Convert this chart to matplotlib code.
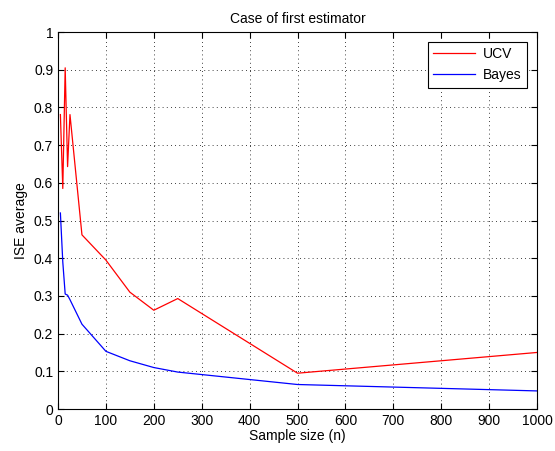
import matplotlib
matplotlib.use('Agg')
import matplotlib.pyplot as plt

# Sample sizes and ISE averages
n = [5, 10, 15, 20, 25, 50, 100, 150, 200, 250, 500, 1000]
ucv = [0.781, 0.585, 0.905, 0.643, 0.781, 0.462, 0.395, 0.31, 0.262, 0.293, 0.095, 0.15]
bayes = [0.52, 0.39, 0.305, 0.302, 0.29, 0.225, 0.153, 0.128, 0.11, 0.098, 0.065, 0.048]

plt.rcParams['font.family'] = ['Liberation Sans', 'DejaVu Sans']
plt.rcParams['font.size'] = 10

fig = plt.figure(figsize=(5.55, 4.51), dpi=100)
ax = fig.add_axes([0.1045, 0.0931, 0.8631, 0.8359])

ax.plot(n, ucv, color='red', lw=0.9, label='UCV')
ax.plot(n, bayes, color='blue', lw=0.9, label='Bayes')

ax.set_xlim(0, 1000)
ax.set_ylim(0, 1)
ax.set_xticks(range(0, 1001, 100))
ax.set_yticks([i / 10 for i in range(11)])
ax.set_yticklabels(['0', '0.1', '0.2', '0.3', '0.4', '0.5', '0.6', '0.7', '0.8', '0.9', '1'])
ax.tick_params(direction='in', top=True, right=True, length=4, labelsize=10)
ax.grid(True, linestyle=(0, (1, 4)), color='black', lw=0.6)

ax.set_xlabel('Sample size (n)', labelpad=1)
ax.set_ylabel('ISE average', labelpad=4)
ax.set_title('Case of first estimator', fontsize=10, pad=6.5)

leg = ax.legend(loc='upper right', fancybox=False, edgecolor='black', framealpha=1,
                fontsize=10, handlelength=3.0, borderaxespad=0.7, handletextpad=0.6)
leg.get_frame().set_linewidth(0.8)

plt.savefig('out.png', dpi=100)
